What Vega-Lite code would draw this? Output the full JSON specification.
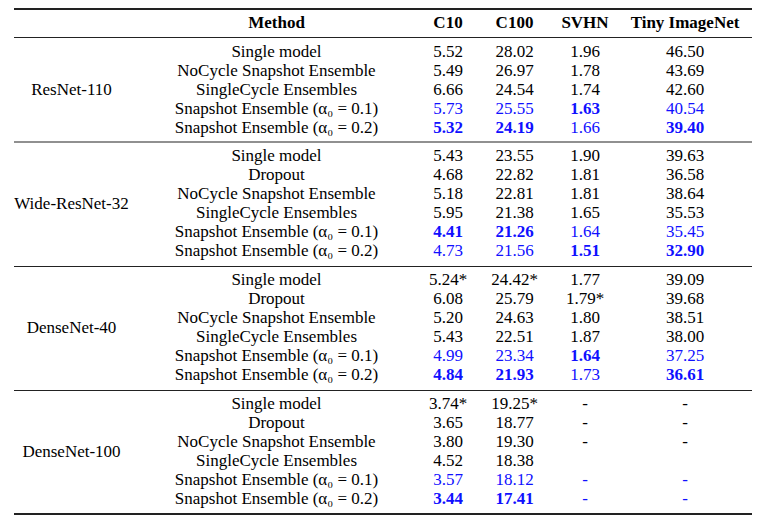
{
  "$schema": "https://vega.github.io/schema/vega-lite/v6.json",
  "width": 738,
  "height": 528,
  "autosize": {"type": "none"},
  "padding": {"left": 14, "right": 17, "top": 0, "bottom": 0},
  "background": "white",
  "config": {"view": {"stroke": null}},
  "datasets": {
    "rules": [
      {"r": -0.5, "w": 2},
      {"r": 0.5, "w": 1.2},
      {"r": 5.5, "w": 1.2},
      {"r": 11.5, "w": 1.2},
      {"r": 17.5, "w": 1.2},
      {"r": 23.5, "w": 2}
    ],
    "cells": [
      {"r": 0, "c": 1, "t": "Method", "b": true},
      {"r": 0, "c": 2, "t": "C10", "b": true},
      {"r": 0, "c": 3, "t": "C100", "b": true},
      {"r": 0, "c": 4, "t": "SVHN", "b": true},
      {"r": 0, "c": 5, "t": "Tiny ImageNet", "b": true},
      {"r": 3, "c": 0, "t": "ResNet-110"},
      {"r": 8.5, "c": 0, "t": "Wide-ResNet-32"},
      {"r": 14.5, "c": 0, "t": "DenseNet-40"},
      {"r": 20.5, "c": 0, "t": "DenseNet-100"},
      {"r": 1, "c": 1, "t": "Single model"},
      {"r": 2, "c": 1, "t": "NoCycle Snapshot Ensemble"},
      {"r": 3, "c": 1, "t": "SingleCycle Ensembles"},
      {"r": 4, "c": 1, "t": "Snapshot Ensemble (α₀ = 0.1)"},
      {"r": 5, "c": 1, "t": "Snapshot Ensemble (α₀ = 0.2)"},
      {"r": 6, "c": 1, "t": "Single model"},
      {"r": 7, "c": 1, "t": "Dropout"},
      {"r": 8, "c": 1, "t": "NoCycle Snapshot Ensemble"},
      {"r": 9, "c": 1, "t": "SingleCycle Ensembles"},
      {"r": 10, "c": 1, "t": "Snapshot Ensemble (α₀ = 0.1)"},
      {"r": 11, "c": 1, "t": "Snapshot Ensemble (α₀ = 0.2)"},
      {"r": 12, "c": 1, "t": "Single model"},
      {"r": 13, "c": 1, "t": "Dropout"},
      {"r": 14, "c": 1, "t": "NoCycle Snapshot Ensemble"},
      {"r": 15, "c": 1, "t": "SingleCycle Ensembles"},
      {"r": 16, "c": 1, "t": "Snapshot Ensemble (α₀ = 0.1)"},
      {"r": 17, "c": 1, "t": "Snapshot Ensemble (α₀ = 0.2)"},
      {"r": 18, "c": 1, "t": "Single model"},
      {"r": 19, "c": 1, "t": "Dropout"},
      {"r": 20, "c": 1, "t": "NoCycle Snapshot Ensemble"},
      {"r": 21, "c": 1, "t": "SingleCycle Ensembles"},
      {"r": 22, "c": 1, "t": "Snapshot Ensemble (α₀ = 0.1)"},
      {"r": 23, "c": 1, "t": "Snapshot Ensemble (α₀ = 0.2)"},

      {"r": 1, "c": 2, "t": "5.52"}, {"r": 1, "c": 3, "t": "28.02"}, {"r": 1, "c": 4, "t": "1.96"}, {"r": 1, "c": 5, "t": "46.50"},
      {"r": 2, "c": 2, "t": "5.49"}, {"r": 2, "c": 3, "t": "26.97"}, {"r": 2, "c": 4, "t": "1.78"}, {"r": 2, "c": 5, "t": "43.69"},
      {"r": 3, "c": 2, "t": "6.66"}, {"r": 3, "c": 3, "t": "24.54"}, {"r": 3, "c": 4, "t": "1.74"}, {"r": 3, "c": 5, "t": "42.60"},
      {"r": 4, "c": 2, "t": "5.73", "u": true}, {"r": 4, "c": 3, "t": "25.55", "u": true}, {"r": 4, "c": 4, "t": "1.63", "u": true, "b": true}, {"r": 4, "c": 5, "t": "40.54", "u": true},
      {"r": 5, "c": 2, "t": "5.32", "u": true, "b": true}, {"r": 5, "c": 3, "t": "24.19", "u": true, "b": true}, {"r": 5, "c": 4, "t": "1.66", "u": true}, {"r": 5, "c": 5, "t": "39.40", "u": true, "b": true},

      {"r": 6, "c": 2, "t": "5.43"}, {"r": 6, "c": 3, "t": "23.55"}, {"r": 6, "c": 4, "t": "1.90"}, {"r": 6, "c": 5, "t": "39.63"},
      {"r": 7, "c": 2, "t": "4.68"}, {"r": 7, "c": 3, "t": "22.82"}, {"r": 7, "c": 4, "t": "1.81"}, {"r": 7, "c": 5, "t": "36.58"},
      {"r": 8, "c": 2, "t": "5.18"}, {"r": 8, "c": 3, "t": "22.81"}, {"r": 8, "c": 4, "t": "1.81"}, {"r": 8, "c": 5, "t": "38.64"},
      {"r": 9, "c": 2, "t": "5.95"}, {"r": 9, "c": 3, "t": "21.38"}, {"r": 9, "c": 4, "t": "1.65"}, {"r": 9, "c": 5, "t": "35.53"},
      {"r": 10, "c": 2, "t": "4.41", "u": true, "b": true}, {"r": 10, "c": 3, "t": "21.26", "u": true, "b": true}, {"r": 10, "c": 4, "t": "1.64", "u": true}, {"r": 10, "c": 5, "t": "35.45", "u": true},
      {"r": 11, "c": 2, "t": "4.73", "u": true}, {"r": 11, "c": 3, "t": "21.56", "u": true}, {"r": 11, "c": 4, "t": "1.51", "u": true, "b": true}, {"r": 11, "c": 5, "t": "32.90", "u": true, "b": true},

      {"r": 12, "c": 2, "t": "5.24*"}, {"r": 12, "c": 3, "t": "24.42*"}, {"r": 12, "c": 4, "t": "1.77"}, {"r": 12, "c": 5, "t": "39.09"},
      {"r": 13, "c": 2, "t": "6.08"}, {"r": 13, "c": 3, "t": "25.79"}, {"r": 13, "c": 4, "t": "1.79*"}, {"r": 13, "c": 5, "t": "39.68"},
      {"r": 14, "c": 2, "t": "5.20"}, {"r": 14, "c": 3, "t": "24.63"}, {"r": 14, "c": 4, "t": "1.80"}, {"r": 14, "c": 5, "t": "38.51"},
      {"r": 15, "c": 2, "t": "5.43"}, {"r": 15, "c": 3, "t": "22.51"}, {"r": 15, "c": 4, "t": "1.87"}, {"r": 15, "c": 5, "t": "38.00"},
      {"r": 16, "c": 2, "t": "4.99", "u": true}, {"r": 16, "c": 3, "t": "23.34", "u": true}, {"r": 16, "c": 4, "t": "1.64", "u": true, "b": true}, {"r": 16, "c": 5, "t": "37.25", "u": true},
      {"r": 17, "c": 2, "t": "4.84", "u": true, "b": true}, {"r": 17, "c": 3, "t": "21.93", "u": true, "b": true}, {"r": 17, "c": 4, "t": "1.73", "u": true}, {"r": 17, "c": 5, "t": "36.61", "u": true, "b": true},

      {"r": 18, "c": 2, "t": "3.74*"}, {"r": 18, "c": 3, "t": "19.25*"}, {"r": 18, "c": 4, "t": "-"}, {"r": 18, "c": 5, "t": "-"},
      {"r": 19, "c": 2, "t": "3.65"}, {"r": 19, "c": 3, "t": "18.77"}, {"r": 19, "c": 4, "t": "-"}, {"r": 19, "c": 5, "t": "-"},
      {"r": 20, "c": 2, "t": "3.80"}, {"r": 20, "c": 3, "t": "19.30"}, {"r": 20, "c": 4, "t": "-"}, {"r": 20, "c": 5, "t": "-"},
      {"r": 21, "c": 2, "t": "4.52"}, {"r": 21, "c": 3, "t": "18.38"},
      {"r": 22, "c": 2, "t": "3.57", "u": true}, {"r": 22, "c": 3, "t": "18.12", "u": true}, {"r": 22, "c": 4, "t": "-", "u": true}, {"r": 22, "c": 5, "t": "-", "u": true},
      {"r": 23, "c": 2, "t": "3.44", "u": true, "b": true}, {"r": 23, "c": 3, "t": "17.41", "u": true, "b": true}, {"r": 23, "c": 4, "t": "-", "u": true}, {"r": 23, "c": 5, "t": "-", "u": true}
    ]
  },
  "layer": [
    {
      "data": {"name": "rules"},
      "mark": {"type": "rule", "color": "#222222"},
      "encoding": {
        "y": {"field": "r", "type": "quantitative", "axis": null,
          "scale": {"domain": [-0.5, 0, 0.5, 1, 5, 5.5, 6, 11, 11.5, 12, 17, 17.5, 18, 23, 23.5],
                    "range": [9, 23, 37.5, 52, 128, 142, 156, 251, 266.5, 280, 375, 390.5, 404, 499, 514],
                    "nice": false, "zero": false}},
        "strokeWidth": {"field": "w", "type": "quantitative", "scale": null, "legend": null}
      }
    },
    {
      "data": {"name": "cells"},
      "transform": [{"filter": "!datum.b"}],
      "mark": {"type": "text", "font": "Liberation Serif", "fontSize": 17, "align": "center", "baseline": "middle"},
      "encoding": {
        "x": {"field": "c", "type": "quantitative", "axis": null,
          "scale": {"domain": [0, 1, 2, 3, 4, 5], "range": [57.5, 262.5, 434, 500.5, 571, 671], "nice": false, "zero": false}},
        "y": {"field": "r", "type": "quantitative", "axis": null},
        "text": {"field": "t", "type": "nominal"},
        "color": {"condition": {"test": "datum.u", "value": "#1010ff"}, "value": "#000000"}
      }
    },
    {
      "data": {"name": "cells"},
      "transform": [{"filter": "datum.b"}],
      "mark": {"type": "text", "font": "Liberation Serif", "fontSize": 17, "fontWeight": "bold", "align": "center", "baseline": "middle"},
      "encoding": {
        "x": {"field": "c", "type": "quantitative", "axis": null},
        "y": {"field": "r", "type": "quantitative", "axis": null},
        "text": {"field": "t", "type": "nominal"},
        "color": {"condition": {"test": "datum.u", "value": "#1010ff"}, "value": "#000000"}
      }
    }
  ]
}
